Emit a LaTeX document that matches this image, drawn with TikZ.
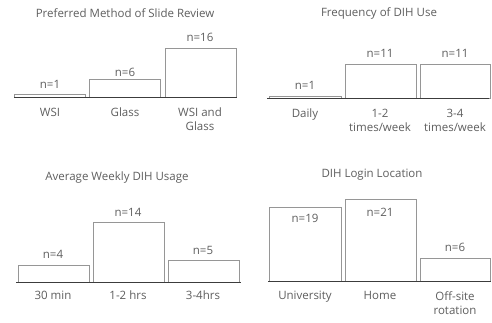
\documentclass[tikz,border=0pt]{standalone}
\usepackage{fontspec}
\setmainfont{Open Sans}
\definecolor{txt}{RGB}{95,95,95}
\definecolor{barline}{RGB}{150,150,150}
\definecolor{axisline}{RGB}{60,60,60}
\begin{document}
\begin{tikzpicture}[x=1pt,y=-1pt,
  bar/.style={draw=barline,fill=white,line width=0.9pt},
  axisln/.style={draw=axisline,line width=1pt},
  val/.style={text=txt,font=\fontsize{11.5}{13}\selectfont,inner sep=0pt},
  cat/.style={text=txt,font=\fontsize{11.5}{14}\selectfont,inner sep=0pt,align=center,anchor=north},
  ttl/.style={text=txt,font=\fontsize{11.5}{13}\selectfont,inner sep=0pt}]
\useasboundingbox[fill=white] (0,0) rectangle (492,322);

% Preferred method of slide review
\node[ttl] (t1) at (125,13) {Preferred Method of Slide Review};
\draw[bar] (14,97) rectangle (85,94);
\draw[bar] (89,97) rectangle (160,79);
\draw[bar] (165,97) rectangle (236,48);
\draw[axisln] (14,97) coordinate (a1l) -- (237,97) coordinate (a1r);
\node[val] (v11) at (50,84) {n=1};
\node[val] (v12) at (125,72) {n=6};
\node[val] (v13) at (200,37) {n=16};
\node[cat] (c11) at (50,108) {WSI};
\node[cat] (c12) at (125,108) {Glass};
\node[cat] (c13) at (200,108) {WSI and\\Glass};

% Frequency of DIH use
\node[ttl] (t2) at (379,13) {Frequency of DIH Use};
\draw[bar] (269,98) rectangle (341,96);
\draw[bar] (345,98) rectangle (416,64);
\draw[bar] (420,98) rectangle (490,64);
\draw[axisln] (267,98) coordinate (a2l) -- (489,98) coordinate (a2r);
\node[val] (v21) at (305,85) {n=1};
\node[val] (v22) at (380,53) {n=11};
\node[val] (v23) at (455,53) {n=11};
\node[cat] (c21) at (305,109) {Daily};
\node[cat] (c22) at (380,109) {1-2\\times/week};
\node[cat] (c23) at (455,109) {3-4\\times/week};

% Average weekly DIH usage
\node[ttl] (t3) at (117,178) {Average Weekly DIH Usage};
\draw[bar] (18,282) rectangle (89,265);
\draw[bar] (93,282) rectangle (164,222);
\draw[bar] (168,282) rectangle (239,260);
\draw[axisln] (16,282) coordinate (a3l) -- (241,282) coordinate (a3r);
\node[val] (v31) at (53,254) {n=4};
\node[val] (v32) at (128,212) {n=14};
\node[val] (v33) at (203,250) {n=5};
\node[cat] (c31) at (53,291) {30 min};
\node[cat] (c32) at (128,291) {1-2 hrs};
\node[cat] (c33) at (203,291) {3-4hrs};

% DIH login location
\node[ttl] (t4) at (372,175) {DIH Login Location};
\draw[bar] (269,281) rectangle (341,207);
\draw[bar] (345,281) rectangle (416,199);
\draw[bar] (420,281) rectangle (490,258);
\draw[axisln] (268,281) coordinate (a4l) -- (491,281) coordinate (a4r);
\node[val] (v41) at (305,218) {n=19};
\node[val] (v42) at (380,212) {n=21};
\node[val] (v43) at (455,247) {n=6};
\node[cat] (c41) at (305,291) {University};
\node[cat] (c42) at (380,291) {Home};
\node[cat] (c43) at (455,291) {Off-site\\rotation};
\end{tikzpicture}
\end{document}
